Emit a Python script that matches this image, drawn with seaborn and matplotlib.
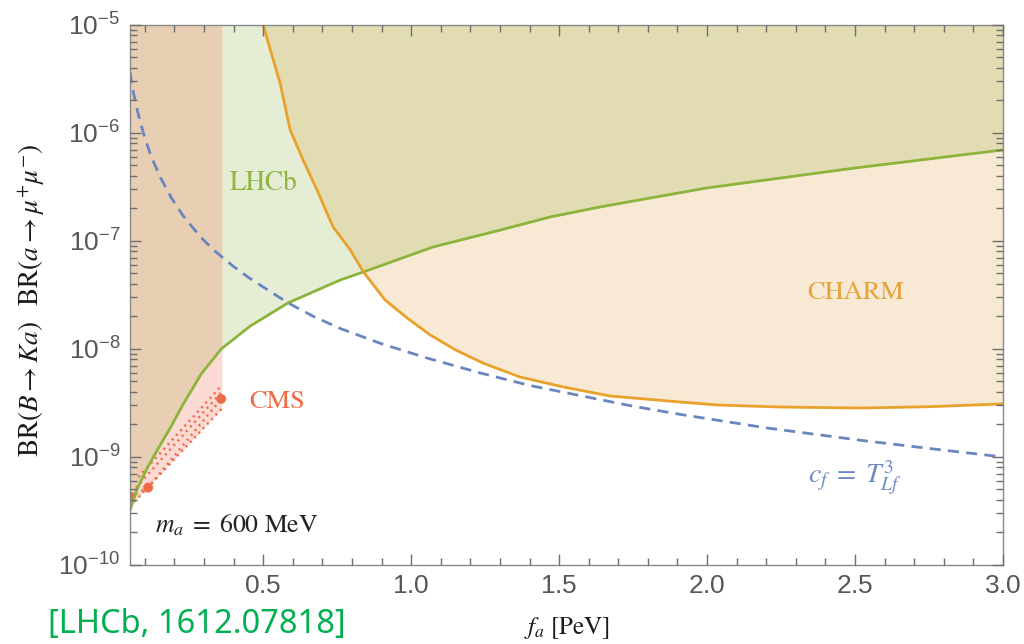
import numpy as np
import pandas as pd
import matplotlib
matplotlib.use("Agg")
import matplotlib.pyplot as plt
import seaborn as sns
from matplotlib.ticker import FixedLocator, FuncFormatter, LogLocator, MultipleLocator, NullFormatter

# ---- data: f_a [PeV] vs BR(B->Ka) BR(a->mu mu), m_a = 600 MeV ----
lhcb_fa = [0.05, 0.074, 0.108, 0.142, 0.186, 0.230, 0.291, 0.358, 0.456, 0.584,
           0.760, 0.838, 1.074, 1.30, 1.47, 1.64, 2.0, 2.5, 3.0]
lhcb_br = [3.2e-10, 5.06e-10, 7.9e-10, 1.16e-9, 1.86e-9, 3.1e-9, 5.9e-9, 1.0e-8, 1.63e-8, 2.67e-8,
           4.35e-8, 5.16e-8, 8.8e-8, 1.26e-7, 1.67e-7, 2.07e-7, 3.1e-7, 4.74e-7, 6.97e-7]

charm_fa = [0.5, 0.524, 0.557, 0.591, 0.635, 0.682, 0.736, 0.794, 0.838, 0.912, 0.986,
            1.064, 1.15, 1.243, 1.368, 1.514, 1.672, 1.909, 2.034, 2.25, 2.517, 2.75, 3.0]
charm_br = [1.0e-5, 5.9e-6, 2.9e-6, 1.07e-6, 5.6e-7, 2.96e-7, 1.35e-7, 8.3e-8, 5.2e-8, 2.84e-8, 1.94e-8,
            1.35e-8, 9.8e-9, 7.4e-9, 5.5e-9, 4.45e-9, 3.67e-9, 3.23e-9, 3.03e-9, 2.9e-9, 2.84e-9,
            2.92e-9, 3.1e-9]

model_fa = [0.05, 0.061, 0.075, 0.095, 0.12, 0.152, 0.19, 0.23, 0.287, 0.331, 0.40, 0.45, 0.5,
            0.584, 0.67, 0.76, 0.895, 1.05, 1.233, 1.40, 1.571, 1.75, 1.909, 2.2, 2.517, 2.75, 3.0]
model_br = [3.67e-6, 2.4e-6, 1.6e-6, 1.0e-6, 6.2e-7, 3.9e-7, 2.5e-7, 1.7e-7, 1.1e-7, 8.3e-8, 5.8e-8,
            4.6e-8, 3.75e-8, 2.67e-8, 2.0e-8, 1.55e-8, 1.13e-8, 8.3e-9, 6.0e-9, 4.6e-9, 3.7e-9,
            2.95e-9, 2.48e-9, 1.86e-9, 1.43e-9, 1.2e-9, 1.0e-9]

# CMS: individual dotted limit lines and the lower edge of the excluded band
cms_lines_fa = [[0.078, 0.355], [0.07, 0.36], [0.05, 0.111, 0.358], [0.05, 0.36]]
cms_lines_br = [[6.5e-10, 4.45e-9], [5.2e-10, 4.0e-9], [4.3e-10, 5.2e-10, 3.45e-9], [3.5e-10, 2.8e-9]]
cms_dot_fa = [0.05, 0.111, 0.358]
cms_dot_br = [4.3e-10, 5.2e-10, 3.45e-9]
cms_edge_fa = 0.36
cms_low_fa = [0.05, 0.36]
cms_low_br = [3.5e-10, 2.8e-9]

# ---- colours ----
c_lhcb_fill = "#E6EDD5"
c_charm_fill = "#F8E9D4"
c_both_fill = "#E2DCB2"
c_cms_fill = "#FADAD2"
c_cms_lhcb_fill = "#E8CFB4"
c_lhcb = "#8CB43C"
c_charm = "#E9A12C"
c_model = "#6B86BF"
c_cms = "#EE6B45"

sns.set_theme(style="ticks")
plt.rcParams.update({
    "font.family": ["STIXGeneral", "DejaVu Sans"],
    "mathtext.fontset": "custom",
    "mathtext.rm": "STIXGeneral",
    "mathtext.it": "STIXGeneral:italic",
    "mathtext.bf": "STIXGeneral:bold",
    "mathtext.sf": "Liberation Sans",
    "mathtext.fallback": "stix",
    "axes.axisbelow": False,
})

fig = plt.figure(figsize=(10.24, 6.44), dpi=100)
ax = fig.add_axes([0.127, 0.1227, 0.8525, 0.8385])
ax.set_axisbelow(False)

XMIN, XMAX = 0.05, 3.0
YMIN, YMAX = 1e-10, 1e-5
TOP = 2e-5


def log_interp(xn, x, y):
    return 10 ** np.interp(xn, np.asarray(x), np.log10(np.asarray(y)))


lf = np.asarray(lhcb_fa)
cf = np.asarray(charm_fa)

# LHCb excluded region (above the green curve)
ax.fill_between(lf, lhcb_br, TOP, color=c_lhcb_fill, lw=0, zorder=0.5)
# CHARM excluded region (above the orange curve)
ax.fill_between(cf, charm_br, TOP, color=c_charm_fill, lw=0, zorder=0.6)
# overlap of LHCb and CHARM
grid = np.union1d(cf, lf[lf >= cf[0]])
both_low = np.maximum(log_interp(grid, lf, lhcb_br), log_interp(grid, cf, charm_br))
ax.fill_between(grid, both_low, TOP, color=c_both_fill, lw=0, zorder=0.7)
# CMS band
ax.fill_between(cms_low_fa, cms_low_br, TOP, color=c_cms_fill, lw=0, zorder=0.8)
band = np.append(lf[lf < cms_edge_fa], cms_edge_fa)
ax.fill_between(band, log_interp(band, lf, lhcb_br), TOP, color=c_cms_lhcb_fill, lw=0, zorder=0.9)

# curves
for fa, br in zip(cms_lines_fa, cms_lines_br):
    sns.lineplot(x=fa, y=br, ax=ax, color=c_cms, lw=1.8, linestyle=(0, (0.8, 1.7)),
                 sort=False, estimator=None, zorder=1.2)
sns.scatterplot(x=cms_dot_fa, y=cms_dot_br, ax=ax, color=c_cms, s=50, edgecolor="none", zorder=1.3)
sns.lineplot(x=lhcb_fa, y=lhcb_br, ax=ax, color=c_lhcb, lw=2.0, sort=False, estimator=None, zorder=1.5)
sns.lineplot(x=charm_fa, y=charm_br, ax=ax, color=c_charm, lw=2.0, sort=False, estimator=None, zorder=1.5)
sns.lineplot(x=model_fa, y=model_br, ax=ax, color=c_model, lw=2.0, linestyle=(0, (4, 2.6)),
             sort=False, estimator=None, zorder=1.6)

ax.set_yscale("log")
ax.set_xlim(XMIN, XMAX)
ax.set_ylim(YMIN, YMAX)

# ticks
ax.xaxis.set_major_locator(FixedLocator([0.5, 1.0, 1.5, 2.0, 2.5, 3.0]))
ax.xaxis.set_minor_locator(MultipleLocator(0.1))
ax.xaxis.set_major_formatter(FuncFormatter(lambda v, p: r"$\mathsf{%.1f}$" % v))
ax.yaxis.set_major_locator(LogLocator(base=10, numticks=10))
ax.yaxis.set_minor_locator(LogLocator(base=10, subs=np.arange(2, 10), numticks=20))
ax.yaxis.set_minor_formatter(NullFormatter())
ax.yaxis.set_major_formatter(FuncFormatter(lambda v, p: r"$\mathsf{10^{%d}}$" % round(np.log10(v))))
ax.tick_params(which="both", direction="in", top=True, right=True, bottom=True, left=True,
               color="#6e6e6e", width=1.0, labelcolor="#575757", labelsize=19)
ax.tick_params(which="major", length=8, pad=7)
ax.tick_params(which="minor", length=5)
ax.xaxis.set_zorder(2.6)
ax.yaxis.set_zorder(2.6)
for s in ax.spines.values():
    s.set_color("#8a8a8a")
    s.set_linewidth(1.0)
    s.set_zorder(2.5)

ax.set_xlabel(r"$f_a\ [\mathrm{PeV}]$", fontsize=18, color="#1a1a1a", va="center")
ax.xaxis.set_label_coords(0.5, -0.117)
ax.set_ylabel(r"$\mathrm{BR}(B \rightarrow K a)\;\;\;\mathrm{BR}(a \rightarrow \mu^{+}\mu^{-})$",
              fontsize=19.5, color="#1a1a1a", va="center")
ax.yaxis.set_label_coords(-0.112, 0.49)

# annotations
ax.text(0.5, 3.44e-7, "LHCb", color="#8DB53F", fontsize=19.5, ha="center", va="center", zorder=3)
ax.text(0.547, 3.24e-9, "CMS", color=c_cms, fontsize=19, ha="center", va="center", zorder=3)
ax.text(2.503, 3.3e-8, "CHARM", color="#E5A33A", fontsize=19, ha="center", va="center", zorder=3)
ax.text(2.5, 6.5e-10, r"$c_f\;=\;T^{3}_{Lf}$", color="#6B8AC4", fontsize=20, ha="center",
        va="center", zorder=3)
ax.text(0.412, 2.34e-10, r"$m_a\;=\;600\ \mathrm{MeV}$", color="#222222", fontsize=18.5,
        ha="center", va="center", zorder=3)

fig.text(48 / 1024, 3 / 644, "[LHCb, 1612.07818]", color="#00B050", fontsize=23.5,
         family="Noto Sans", ha="left", va="bottom")

fig.savefig("out.png", dpi=100)
